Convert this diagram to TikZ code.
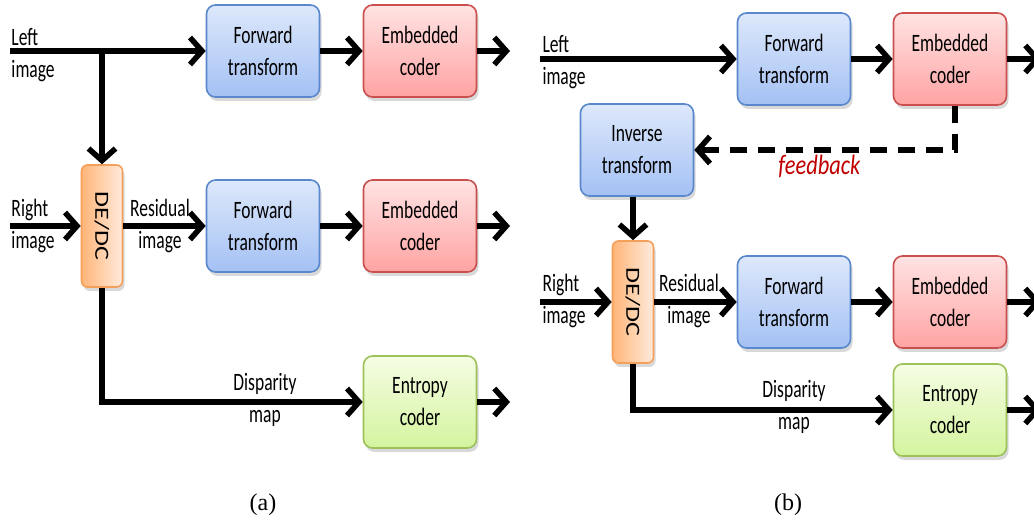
\documentclass[tikz,border=0pt]{standalone}
\usepackage{fontspec}
\usepackage{graphicx}
\setmainfont{Carlito}
\newfontfamily\estrecha[FakeStretch=0.7]{Carlito}
\newfontfamily\media[FakeStretch=0.8]{Carlito}
\newfontfamily\ancha[FakeStretch=1.3]{Carlito}
\newfontfamily\capfont{Liberation Serif}
\usetikzlibrary{arrows.meta,shadows}
\definecolor{azul}{HTML}{5A88CC}
\definecolor{azulclaro}{HTML}{DDE8FB}
\definecolor{azuloscuro}{HTML}{A4C1F4}
\definecolor{rojo}{HTML}{C9504F}
\definecolor{rojoclaro}{HTML}{FFE3E3}
\definecolor{rojooscuro}{HTML}{FFA3A3}
\definecolor{verde}{HTML}{9DC25A}
\definecolor{verdeclaro}{HTML}{F5FDE4}
\definecolor{verdeoscuro}{HTML}{D4F49E}
\definecolor{naranjo}{HTML}{F5A05A}
\definecolor{naranjoclaro}{HTML}{FFEBDD}
\definecolor{naranjooscuro}{HTML}{FFB578}
\definecolor{rojofb}{HTML}{C00000}

\tikzset{
  bloque/.style={draw, line width=1.6pt, rounded corners=9pt, minimum width=113pt,
    minimum height=92pt, align=center, font=\estrecha\fontsize{25}{32}\selectfont,
    drop shadow={shadow xshift=2pt, shadow yshift=-4pt, opacity=0.3}},
  fwd/.style={bloque, draw=azul, top color=azulclaro, bottom color=azuloscuro},
  emb/.style={bloque, draw=rojo, top color=rojoclaro, bottom color=rojooscuro},
  ent/.style={bloque, draw=verde, top color=verdeclaro, bottom color=verdeoscuro},
  dedc/.style={bloque, draw=naranjo, minimum width=41pt, minimum height=122pt,
    rounded corners=6pt, left color=naranjooscuro, right color=naranjoclaro,
    font=\ancha\fontsize{20}{24}\selectfont},
  flecha/.style={line width=5.5pt, -{Straight Barb[length=12pt,width=27pt]}},
  etiq/.style={align=left, inner sep=0pt, font=\estrecha\fontsize{25}{32}\selectfont},
  etiqc/.style={etiq, align=center}
}

\begin{document}
\begin{tikzpicture}[x=1pt, y=-1pt, line width=1pt]
  \useasboundingbox (0,0) rectangle (1034,521);

  % (a)
  \node[fwd] (fwa1) at (263,51) {Forward\\transform};
  \node[emb] (ema1) at (420,51) {Embedded\\coder};
  \node[dedc] (dca) at (102,226) {\rotatebox{-90}{DE/DC}};
  \node[fwd] (fwa2) at (263,226) {Forward\\transform};
  \node[emb] (ema2) at (420,226) {Embedded\\coder};
  \node[ent] (ena) at (420,402) {Entropy\\coder};

  \coordinate (lefta) at (10,51);
  \coordinate (splita) at (102,51);
  \coordinate (righta) at (10,226);
  \coordinate (outa1) at (510,51);
  \coordinate (outa2) at (510,226);
  \coordinate (outa3) at (510,402);

  \node[etiq, anchor=west] (lla) at (11,55) {Left\\image};
  \node[etiq, anchor=west] (rla) at (11,226) {Right\\image};
  \node[etiqc] (rsa) at (160,226) {Residual\\image};
  \node[etiqc] (dpa) at (265,400) {Disparity\\map};

  \draw[flecha] (lefta) -- (fwa1);
  \draw[flecha] (splita) -- (dca);
  \draw[flecha] (fwa1) -- (ema1);
  \draw[flecha] (ema1) -- (outa1);
  \draw[flecha] (righta) -- (dca);
  \draw[flecha] (dca) -- (fwa2);
  \draw[flecha] (fwa2) -- (ema2);
  \draw[flecha] (ema2) -- (outa2);
  \draw[flecha] (dca.south) |- (ena.west);
  \draw[flecha] (ena) -- (outa3);

  \node[font=\capfont\fontsize{24}{28}\selectfont] (capa) at (263,505) {(a)};

  % (b)
  \node[fwd] (fwb1) at (794,59) {Forward\\transform};
  \node[emb] (emb1) at (950,59) {Embedded\\coder};
  \node[fwd] (inv) at (637,150) {Inverse\\transform};
  \node[dedc] (dcb) at (633,302) {\rotatebox{-90}{DE/DC}};
  \node[fwd] (fwb2) at (794,302) {Forward\\transform};
  \node[emb] (emb2) at (950,302) {Embedded\\coder};
  \node[ent] (enb) at (950,410) {Entropy\\coder};

  \coordinate (leftb) at (540,59);
  \coordinate (rightb) at (540,302);
  \coordinate (outb1) at (1041,59);
  \coordinate (outb2) at (1041,302);
  \coordinate (outb3) at (1041,410);

  \node[etiq, anchor=west] (llb) at (542,62) {Left\\image};
  \node[etiq, anchor=west] (rlb) at (542,301) {Right\\image};
  \node[etiqc] (rsb) at (689,301) {Residual\\image};
  \node[etiqc] (dpb) at (794,407) {Disparity\\map};

  \draw[flecha] (leftb) -- (fwb1);
  \draw[flecha] (fwb1) -- (emb1);
  \draw[flecha] (emb1) -- (outb1);
  \draw[flecha, dash pattern=on 17pt off 11pt] ([xshift=5pt]emb1.south) |- (inv.east)
    node[pos=0.76, below=-1pt, font=\media\fontsize{28}{30}\selectfont\itshape, text=rojofb] (fb) {feedback};
  \draw[flecha] (inv.south -| dcb) -- (dcb);
  \draw[flecha] (rightb) -- (dcb);
  \draw[flecha] (dcb) -- (fwb2);
  \draw[flecha] (fwb2) -- (emb2);
  \draw[flecha] (emb2) -- (outb2);
  \draw[flecha] (dcb.south) |- (enb.west);
  \draw[flecha] (enb) -- (outb3);

  \node[font=\capfont\fontsize{24}{28}\selectfont] (capb) at (788,505) {(b)};

\end{tikzpicture}
\end{document}
